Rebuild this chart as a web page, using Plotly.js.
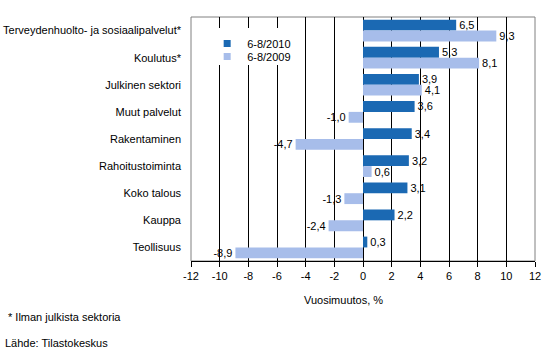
<!DOCTYPE html>
<html>
<head>
<meta charset="utf-8">
<script src="https://cdn.plot.ly/plotly-3.0.1.min.js"></script>
<style>html,body{margin:0;padding:0;background:#fff;}#chart{width:551px;height:355px;}</style>
</head>
<body>
<div id="chart"></div>
<script>
var categories = ["Terveydenhuolto- ja sosiaalipalvelut*", "Koulutus*", "Julkinen sektori", "Muut palvelut", "Rakentaminen", "Rahoitustoiminta", "Koko talous", "Kauppa", "Teollisuus"];
var series2010 = [6.5, 5.3, 3.9, 3.6, 3.4, 3.2, 3.1, 2.2, 0.3];
var series2009 = [9.3, 8.1, 4.1, -1.0, -4.7, 0.6, -1.3, -2.4, -8.9];
var seriesNames = ["6-8/2010", "6-8/2009"];
var seriesColors = ["#1B69B3", "#A7BDEA"];
var tickVals = [-12, -10, -8, -6, -4, -2, 0, 2, 4, 6, 8, 10, 12];
var xTitle = "Vuosimuutos, %";
var footnote = "* Ilman julkista sektoria";
var source = "Lähde: Tilastokeskus";

var font = "Liberation Sans, Arial, sans-serif";
function mk(vals, name, color) {
  return {
    type: "bar", orientation: "h", y: categories, x: vals, name: name, showlegend: false,
    marker: {color: color, line: {width: 0}},
    text: vals.map(function(v){ return v.toFixed(1).replace(".", ","); }),
    textposition: "outside", cliponaxis: false, constraintext: "none",
    textfont: {family: font, size: 11, color: "#000"},
    hoverinfo: "x+name"
  };
}
function leg(name, color, legendId) {
  return {type: "scatter", mode: "markers", x: [null], y: [null], name: name, legend: legendId,
          showlegend: true, marker: {symbol: "square", size: 7, color: color, line: {width: 0}}};
}
var data = [mk(series2010, seriesNames[0], seriesColors[0]), mk(series2009, seriesNames[1], seriesColors[1]),
            leg(seriesNames[0], seriesColors[0], "legend"), leg(seriesNames[1], seriesColors[1], "legend2")];
var legFont = {family: font, size: 11, color: "#000"};
var layout = {
  width: 551, height: 355,
  margin: {l: 191, r: 16, t: 17, b: 94, pad: 0},
  paper_bgcolor: "#fff", plot_bgcolor: "#fff",
  font: {family: font, size: 11, color: "#000"},
  barmode: "group", bargap: 0.2, bargroupgap: 0,
  showlegend: true,
  legend: {x: 0.047, y: 0.951, xanchor: "left", yanchor: "top", bgcolor: "rgba(0,0,0,0)", font: legFont},
  legend2: {x: 0.047, y: 0.8975, xanchor: "left", yanchor: "top", bgcolor: "rgba(0,0,0,0)", font: legFont},
  xaxis: {range: [-12, 12], tickvals: tickVals, ticktext: tickVals.map(String),
          showgrid: true, gridcolor: "#000", gridwidth: 1, zeroline: true, zerolinecolor: "#000", zerolinewidth: 1,
          showline: true, linecolor: "#000", linewidth: 1, ticks: "outside", ticklen: 5, tickcolor: "#000",
          tickfont: {family: font, size: 11}, fixedrange: true},
  yaxis: {type: "category", autorange: "reversed", showgrid: false, zeroline: false,
          showline: false, ticks: "", ticklabelstandoff: 9,
          tickfont: {family: font, size: 11}, fixedrange: true},
  shapes: [
    {type: "rect", xref: "paper", yref: "paper", x0: 0, x1: 1, y0: 0, y1: 1,
     line: {color: "#808080", width: 1}, layer: "below"},
    {type: "rect", xref: "paper", yref: "paper", x0: 0.04, x1: 0.32, y0: 0.803, y1: 0.955,
     fillcolor: "#fff", line: {width: 0}, layer: "above"}
  ],
  annotations: [
    {text: xTitle, xref: "paper", yref: "paper", x: 0.442, y: -0.16, xanchor: "center", yanchor: "middle", showarrow: false, font: {size: 11}},
    {text: footnote, xref: "paper", yref: "paper", x: -0.537, y: -0.229, xanchor: "left", yanchor: "middle", showarrow: false, font: {size: 11}},
    {text: source, xref: "paper", yref: "paper", x: -0.546, y: -0.336, xanchor: "left", yanchor: "middle", showarrow: false, font: {size: 11}}
  ]
};
Plotly.newPlot("chart", data, layout, {displayModeBar: false, staticPlot: true});
</script>
</body>
</html>
